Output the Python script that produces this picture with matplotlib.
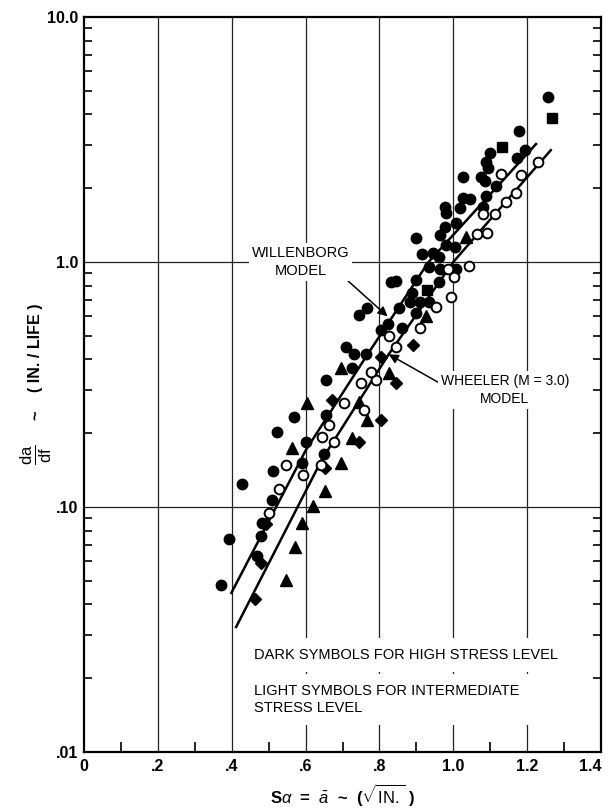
import matplotlib
matplotlib.use("Agg")
import matplotlib.pyplot as plt
from matplotlib.ticker import FixedLocator, NullFormatter, LogLocator

FONT = ['Liberation Sans', 'DejaVu Sans']
plt.rcParams['font.family'] = FONT
plt.rcParams['mathtext.fontset'] = 'custom'
plt.rcParams['mathtext.rm'] = 'Liberation Sans'
plt.rcParams['mathtext.it'] = 'Liberation Sans:italic'
plt.rcParams['mathtext.bf'] = 'Liberation Sans:bold'

# ---------------- data ----------------
dark_circle_x = [0.372, 0.394, 0.480, 0.469, 0.482, 0.509, 0.429, 0.512, 0.590, 0.650,
                 0.601, 0.523, 0.569, 0.655, 0.655, 0.725, 0.709, 0.730, 0.763, 0.803,
                 0.822, 0.860, 0.765, 0.744, 0.852, 0.884, 0.911, 0.933, 0.900, 0.887,
                 0.830, 0.844, 0.900, 0.960, 0.933, 0.965, 1.008, 0.914, 0.946, 0.960,
                 0.981, 1.005, 0.900, 0.965, 0.978, 1.008, 0.978, 0.981, 1.019, 1.081,
                 1.027, 1.046, 1.089, 1.116, 1.027, 1.075, 1.086, 1.094, 1.100, 1.089,
                 1.194, 1.173, 1.178, 1.256]
dark_circle_y = [0.0481, 0.0740, 0.0762, 0.0631, 0.0861, 0.107, 0.124, 0.140, 0.151, 0.164,
                 0.184, 0.202, 0.233, 0.237, 0.33, 0.37, 0.45, 0.42, 0.42, 0.53,
                 0.56, 0.54, 0.65, 0.61, 0.65, 0.687, 0.687, 0.687, 0.62, 0.75,
                 0.83, 0.84, 0.845, 0.83, 0.95, 0.94, 0.94, 1.08, 1.09, 1.05,
                 1.17, 1.15, 1.25, 1.29, 1.39, 1.44, 1.68, 1.58, 1.66, 1.68,
                 1.82, 1.81, 1.86, 2.04, 2.22, 2.22, 2.14, 2.42, 2.79, 2.56,
                 2.87, 2.66, 3.43, 4.71]

dark_square_x = [1.132, 1.267, 0.930]
dark_square_y = [2.95, 3.87, 0.77]

dark_diamond_x = [0.464, 0.480, 0.493, 0.652, 0.744, 0.803, 0.671, 0.844, 0.803, 0.892]
dark_diamond_y = [0.0421, 0.0591, 0.0853, 0.144, 0.184, 0.226, 0.273, 0.32, 0.41, 0.46]

dark_triangle_x = [0.547, 0.571, 0.590, 0.620, 0.652, 0.695, 0.563, 0.725, 0.765, 0.744,
                   0.604, 0.695, 0.825, 0.925, 1.035]
dark_triangle_y = [0.0504, 0.0687, 0.0861, 0.101, 0.116, 0.151, 0.174, 0.191, 0.226, 0.268,
                   0.266, 0.37, 0.352, 0.60, 1.26]

open_circle_x = [0.501, 0.528, 0.547, 0.593, 0.642, 0.644, 0.677, 0.663, 0.757, 0.704,
                 0.749, 0.792, 0.776, 0.846, 0.825, 0.911, 0.954, 0.995, 1.003, 0.987,
                 1.043, 1.065, 1.092, 1.081, 1.113, 1.143, 1.170, 1.129, 1.183, 1.229]
open_circle_y = [0.0945, 0.118, 0.148, 0.135, 0.148, 0.193, 0.184, 0.216, 0.249, 0.266,
                 0.32, 0.33, 0.356, 0.45, 0.50, 0.54, 0.655, 0.72, 0.87, 0.94,
                 0.96, 1.30, 1.31, 1.57, 1.57, 1.76, 1.91, 2.29, 2.26, 2.56]

willenborg_x = [0.399, 0.601, 0.763, 0.933, 1.224]
willenborg_y = [0.0446, 0.171, 0.409, 1.0, 3.03]

wheeler_x = [0.412, 0.644, 0.825, 1.0, 1.113, 1.264]
wheeler_y = [0.0324, 0.156, 0.42, 1.0, 1.57, 2.86]

x_ticks = [0, 0.2, 0.4, 0.6, 0.8, 1.0, 1.2, 1.4]
x_tick_labels = ['0', '.2', '.4', '.6', '.8', '1.0', '1.2', '1.4']
y_ticks = [0.01, 0.1, 1.0, 10.0]
y_tick_labels = ['.01', '.10', '1.0', '10.0']

# ---------------- figure ----------------
W, H = 610, 811
fig = plt.figure(figsize=(W / 100, H / 100), dpi=100)
ax = fig.add_axes([84 / W, 1 - 752 / H, (601 - 84) / W, (752 - 17) / H])
ax.set_yscale('log')
ax.set_xlim(0, 1.4)
ax.set_ylim(0.01, 10.0)

grid_kw = dict(color='#222222', lw=0.9, zorder=1)
for gx in x_ticks[1:-1]:
    ax.axvline(gx, **grid_kw)
for gy in y_ticks[1:-1]:
    ax.axhline(gy, **grid_kw)

for s in ax.spines.values():
    s.set_linewidth(1.6)
    s.set_color('black')

ax.set_xticks(x_ticks)
ax.set_xticklabels(x_tick_labels)
ax.xaxis.set_minor_locator(FixedLocator([0.1, 0.3, 0.5, 0.7, 0.9, 1.1, 1.3]))
ax.set_yticks(y_ticks)
ax.set_yticklabels(y_tick_labels)
ax.yaxis.set_minor_locator(LogLocator(base=10, subs=range(2, 10)))
ax.yaxis.set_minor_formatter(NullFormatter())
ax.tick_params(axis='both', which='both', direction='in', color='black')
ax.tick_params(axis='x', which='major', length=0, pad=5)
ax.tick_params(axis='x', which='minor', length=7, width=1.2)
ax.tick_params(axis='y', which='major', length=0, pad=4)
ax.tick_params(axis='y', which='minor', length=6, width=1.2, right=True)
for lab in ax.get_xticklabels() + ax.get_yticklabels():
    lab.set_fontsize(11.5)
    lab.set_fontweight('bold')
    lab.set_family(FONT)
ax.get_xticklabels()[-1].set_horizontalalignment('right')

# model lines
ax.plot(willenborg_x, willenborg_y, color='black', lw=1.8, zorder=3)
ax.plot(wheeler_x, wheeler_y, color='black', lw=1.8, zorder=3)

# data symbols
ax.plot(dark_circle_x, dark_circle_y, 'o', ms=7.5, color='black', zorder=4)
ax.plot(dark_square_x, dark_square_y, 's', ms=7, color='black', zorder=4)
ax.plot(dark_diamond_x, dark_diamond_y, 'D', ms=6.5, color='black', zorder=4)
ax.plot(dark_triangle_x, dark_triangle_y, '^', ms=8, color='black', zorder=4)
ax.plot(open_circle_x, open_circle_y, 'o', ms=7, mfc='white', mec='black', mew=1.4, zorder=5)

txt_kw = dict(fontsize=10.5, family=FONT, color='black', zorder=6)
box = dict(boxstyle='square,pad=0.2', fc='white', ec='none')

ax.annotate('WILLENBORG\nMODEL', xy=(0.822, 0.60), xytext=(0.587, 1.0),
            ha='center', va='center', linespacing=1.35, bbox=box,
            arrowprops=dict(arrowstyle='-|>', color='black', lw=1.1,
                            mutation_scale=14, shrinkA=0, shrinkB=0,
                            relpos=(0.95, 0.0)),
            **txt_kw)

ax.annotate('WHEELER (M = 3.0)\nMODEL', xy=(0.825, 0.42), xytext=(0.966, 0.30),
            ha='left', va='center', linespacing=1.35, multialignment='center', bbox=box,
            arrowprops=dict(arrowstyle='-|>', color='black', lw=1.1,
                            mutation_scale=14, shrinkA=0, shrinkB=0,
                            relpos=(0.0, 0.7)),
            fontsize=10, family=FONT, color='black', zorder=6)

ax.text(0.461, 0.0249, 'DARK SYMBOLS FOR HIGH STRESS LEVEL',
        ha='left', va='center', bbox=dict(boxstyle='square,pad=0.7', fc='white', ec='none'),
        **txt_kw)
ax.text(0.461, 0.0164, 'LIGHT SYMBOLS FOR INTERMEDIATE\nSTRESS LEVEL',
        ha='left', va='center', linespacing=1.3,
        bbox=dict(boxstyle='square,pad=0.7', fc='white', ec='none'),
        **txt_kw)

ax.set_xlabel(r'S$\alpha$  =  $\bar{a}$  ~  ($\sqrt{\mathrm{IN.}}$ )', fontsize=12, fontweight='bold', labelpad=6)

# y-axis label: fraction da/df, then "~ ( IN. / LIFE )", read bottom to top
fig.text(0.059, 0.439, r'$\frac{\mathrm{da}}{\mathrm{df}}$', rotation=90, fontsize=17,
         ha='center', va='center')
fig.text(0.059, 0.488, '~', rotation=90, fontsize=12, fontweight='bold', ha='center', va='center')
fig.text(0.059, 0.571, '( IN. / LIFE )', rotation=90, fontsize=11.5, fontweight='bold',
         ha='center', va='center')

fig.savefig('out.png', dpi=100)
